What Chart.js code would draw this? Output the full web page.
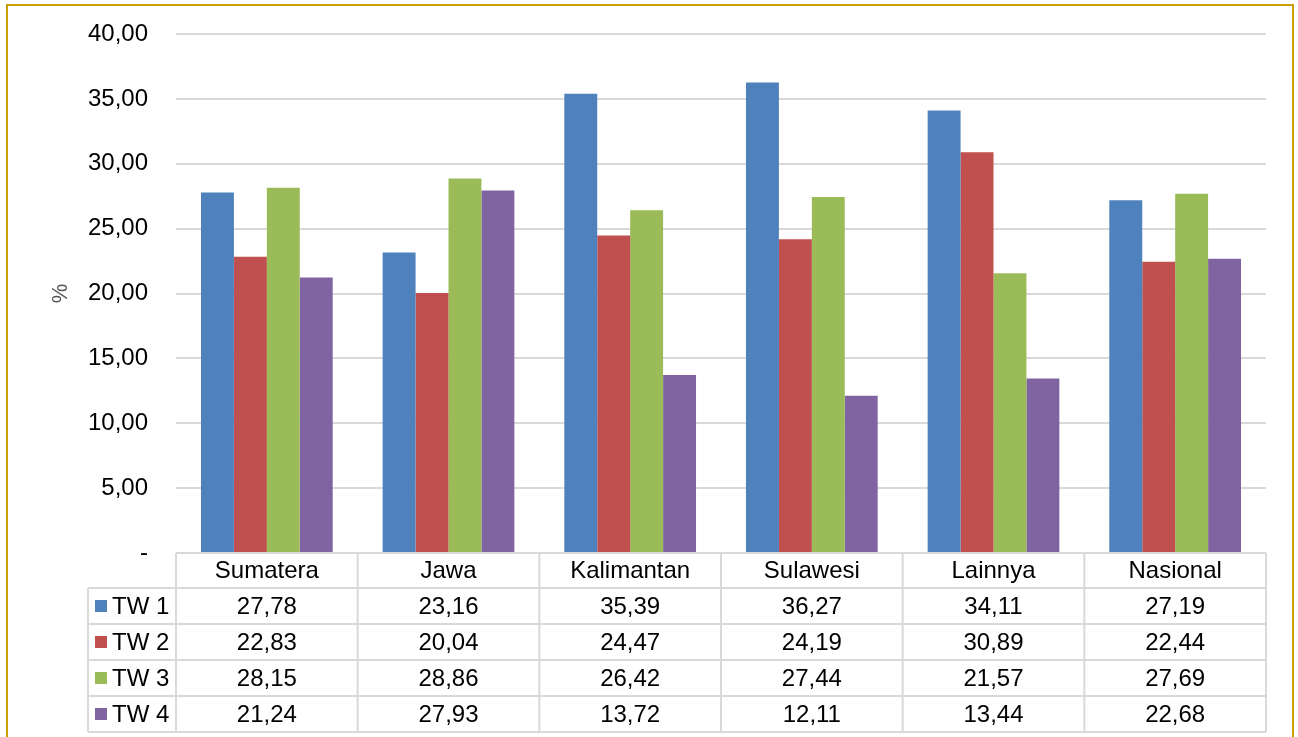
<!DOCTYPE html>
<html>
<head>
<meta charset="utf-8">
<script src="https://cdn.jsdelivr.net/npm/chart.js@4/dist/chart.umd.min.js"></script>
<style>
  html, body { margin: 0; padding: 0; background: #fff; overflow: hidden; }
  #wrap { position: relative; width: 1298px; height: 737px; }
  #frame {
    position: absolute; left: 6px; top: 4px; width: 1288px; height: 760px;
    border: 2px solid #c9a000; box-sizing: border-box; pointer-events: none;
  }
  canvas { position: absolute; left: 0; top: 0; }
</style>
</head>
<body>
<div id="wrap">
  <canvas id="chart" width="1298" height="737"></canvas>
  <div id="frame"></div>
</div>
<script>
// regions on the x axis
const regions = ['Sumatera', 'Jawa', 'Kalimantan', 'Sulawesi', 'Lainnya', 'Nasional'];

// one array per quarter (TW = triwulan)
const tw1 = [27.78, 23.16, 35.39, 36.27, 34.11, 27.19];
const tw2 = [22.83, 20.04, 24.47, 24.19, 30.89, 22.44];
const tw3 = [28.15, 28.86, 26.42, 27.44, 21.57, 27.69];
const tw4 = [21.24, 27.93, 13.72, 12.11, 13.44, 22.68];

const seriesNames = ['TW 1', 'TW 2', 'TW 3', 'TW 4'];
const seriesColors = ['#4f81bd', '#c0504d', '#9bbb59', '#8064a2'];

const fmt = (v) => v.toFixed(2).replace('.', ',');
const FONT = '"Liberation Sans", Arial, sans-serif';

// draws the data table under the plot, lined up with the x scale
const dataTable = {
  id: 'dataTable',
  afterDraw(chart) {
    const ctx = chart.ctx;
    const x = chart.scales.x;
    const area = chart.chartArea;
    const colW = (area.right - area.left) / regions.length;
    const top = area.bottom;
    const headH = 35;
    const rowH = 36;
    const legendLeft = 88;
    const bottom = top + headH + rowH * seriesNames.length;

    ctx.save();
    ctx.strokeStyle = '#d9d9d9';
    ctx.lineWidth = 2;

    // horizontal lines
    ctx.beginPath();
    ctx.moveTo(area.left, top);
    ctx.lineTo(area.right, top);
    for (let r = 0; r <= seriesNames.length; r++) {
      const y = top + headH + r * rowH;
      ctx.moveTo(legendLeft, y);
      ctx.lineTo(area.right, y);
    }
    // vertical lines
    for (let c = 0; c <= regions.length; c++) {
      const cx = area.left + c * colW;
      ctx.moveTo(cx, top);
      ctx.lineTo(cx, bottom);
    }
    ctx.moveTo(legendLeft, top + headH);
    ctx.lineTo(legendLeft, bottom);
    ctx.stroke();

    ctx.font = '24px ' + FONT;
    ctx.fillStyle = '#000';
    ctx.textAlign = 'center';
    ctx.textBaseline = 'middle';

    regions.forEach((name, i) => {
      ctx.fillText(name, x.getPixelForValue(i), top + headH / 2 + 1);
    });

    chart.data.datasets.forEach((ds, r) => {
      const cy = top + headH + r * rowH + rowH / 2 + 1;
      ds.data.forEach((v, i) => {
        ctx.fillText(fmt(v), x.getPixelForValue(i), cy);
      });
      // legend key
      ctx.fillStyle = ds.backgroundColor;
      ctx.fillRect(legendLeft + 7, cy - 7, 12, 12);
      ctx.fillStyle = '#000';
      ctx.textAlign = 'left';
      ctx.fillText(ds.label, legendLeft + 24, cy);
      ctx.textAlign = 'center';
    });
    ctx.restore();
  }
};

new Chart(document.getElementById('chart'), {
  type: 'bar',
  data: {
    labels: regions,
    datasets: [tw1, tw2, tw3, tw4].map((d, i) => ({
      label: seriesNames[i],
      data: d,
      backgroundColor: seriesColors[i],
      borderWidth: 0,
      categoryPercentage: 0.725,
      barPercentage: 1
    }))
  },
  options: {
    responsive: false,
    animation: false,
    layout: { padding: { top: 34, right: 32, bottom: 184, left: 0 } },
    plugins: {
      legend: { display: false },
      tooltip: { enabled: false }
    },
    scales: {
      x: {
        afterFit: (s) => { s.height = 0; },
        ticks: { display: false },
        grid: { display: false },
        border: { display: false }
      },
      y: {
        min: 0,
        max: 40,
        afterFit: (s) => { s.width = 176; s.paddingTop = 0; s.paddingBottom = 0; },
        border: { display: false },
        grid: { color: '#d9d9d9', lineWidth: 2, drawTicks: false },
        ticks: {
          stepSize: 5,
          padding: 28,
          color: '#000',
          font: { size: 24, family: FONT },
          callback: (v) => v === 0 ? '-' : fmt(v)
        },
        title: {
          display: true,
          text: '%',
          color: '#595959',
          font: { size: 22, family: FONT },
          padding: { top: 48, bottom: 0 }
        }
      }
    }
  },
  plugins: [dataTable]
});
</script>
</body>
</html>
